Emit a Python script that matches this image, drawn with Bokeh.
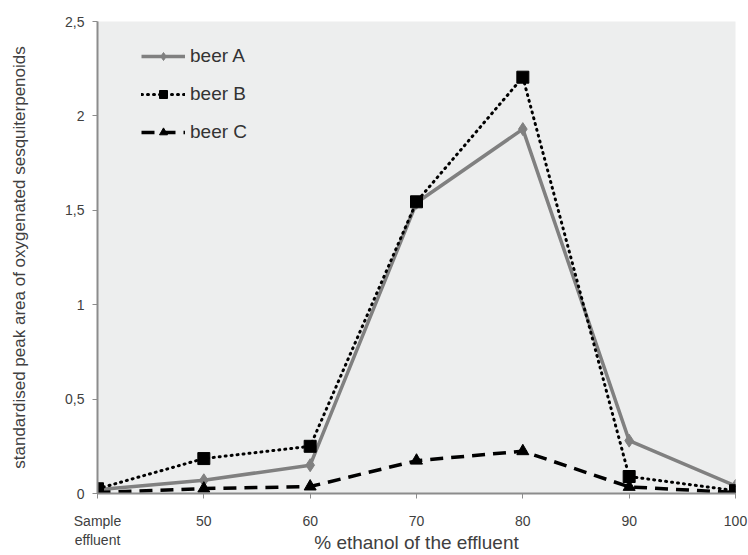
from bokeh.plotting import figure
from bokeh.models import FixedTicker, Legend, LegendItem, Range1d
from bokeh.embed import file_html
from bokeh.resources import INLINE

# ---- data ----
categories = ["Sample\neffluent", "50", "60", "70", "80", "90", "100"]
beer_a = [0.02, 0.07, 0.15, 1.54, 1.93, 0.28, 0.04]
beer_b = [0.025, 0.185, 0.25, 1.545, 2.205, 0.09, 0.015]
beer_c = [0.005, 0.026, 0.037, 0.174, 0.224, 0.035, 0.005]
y_ticks = [0, 0.5, 1, 1.5, 2, 2.5]
y_tick_labels = ["0", "0,5", "1", "1,5", "2", "2,5"]

xs = list(range(len(categories)))
FONT = "Liberation Sans"
TXT = "#404040"

p = figure(width=748, height=555, output_backend="svg", toolbar_location=None,
           x_range=Range1d(0, len(categories) - 1), y_range=Range1d(0, 2.5),
           min_border_left=97, min_border_right=13, min_border_top=21,
           min_border_bottom=61)
p.background_fill_color = "#EDEEEE"
p.border_fill_color = "white"
p.outline_line_color = None
p.grid.visible = False

# axes
p.xaxis.ticker = FixedTicker(ticks=xs)
p.xaxis.major_label_overrides = {i: c for i, c in enumerate(categories)}
p.yaxis.ticker = FixedTicker(ticks=y_ticks)
p.yaxis.major_label_overrides = {t: l for t, l in zip(y_ticks, y_tick_labels)}
for ax in (p.xaxis, p.yaxis):
    ax.axis_line_color = "#8c8c8c"
    ax.axis_line_width = 2
    ax.major_tick_line_color = "#8c8c8c"
    ax.major_tick_line_width = 1
    ax.major_tick_in = 0
    ax.major_tick_out = 5
    ax.minor_tick_line_color = None
    ax.major_label_text_font = FONT
    ax.major_label_text_color = TXT
    ax.axis_label_text_font = FONT
    ax.axis_label_text_font_style = "normal"
    ax.axis_label_text_color = TXT
p.xaxis.major_label_text_font_size = "14px"
p.xaxis.major_label_standoff = 14
p.xaxis.axis_label = "% ethanol of the effluent"
p.xaxis.axis_label_text_font_size = "19px"
p.xaxis.axis_label_standoff = -19
p.yaxis.major_label_text_font_size = "14px"
p.yaxis.major_label_standoff = 8
p.yaxis.axis_label = "standardised peak area of oxygenated sesquiterpenoids"
p.yaxis.axis_label_text_font_size = "17px"
p.yaxis.axis_label_standoff = 33

# series
la = p.line(xs, beer_a, line_color="#808080", line_width=3.5)
ma = p.scatter(xs, beer_a, marker="diamond", size=13, fill_color="#808080",
               line_color="#808080")
lb = p.line(xs, beer_b, line_color="black", line_width=3, line_dash="1 5",
            line_cap="round")
mb = p.scatter(xs, beer_b, marker="square", size=12, fill_color="black",
               line_color="black")
lc = p.line(xs, beer_c, line_color="black", line_width=3.5, line_dash="13 8")
mc = p.scatter(xs, beer_c, marker="triangle", size=12, fill_color="black",
               line_color="black")

legend = Legend(items=[LegendItem(label="beer A", renderers=[la, ma]),
                       LegendItem(label="beer B", renderers=[lb, mb]),
                       LegendItem(label="beer C", renderers=[lc, mc])],
                location=(44, 350), orientation="vertical")
legend.background_fill_alpha = 0
legend.border_line_color = None
legend.padding = 0
legend.margin = 0
legend.spacing = 16
legend.glyph_width = 44
legend.glyph_height = 20
legend.label_height = 20
legend.label_standoff = 5
legend.label_text_font = FONT
legend.label_text_font_size = "19px"
legend.label_text_color = "#333333"
p.add_layout(legend)

open("out.html", "w").write(file_html(p, INLINE))
